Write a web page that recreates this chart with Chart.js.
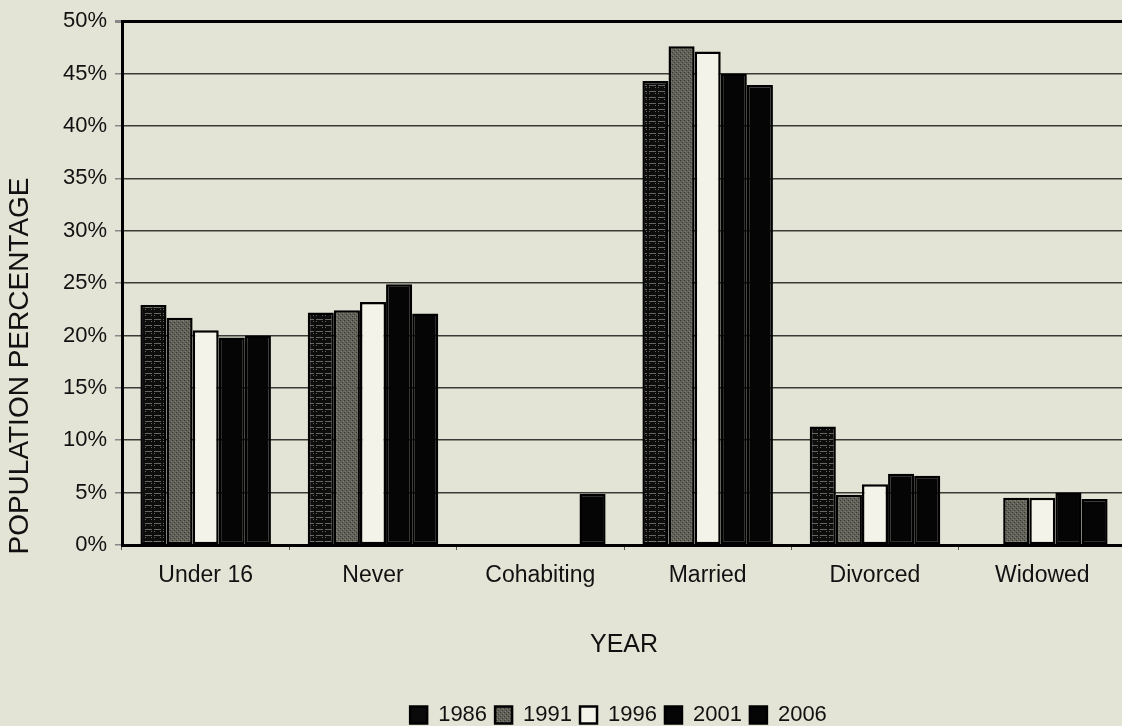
<!DOCTYPE html>
<html>
<head>
<meta charset="utf-8">
<script src="https://cdn.jsdelivr.net/npm/chart.js@4.4.1/dist/chart.umd.min.js"></script>
<style>
  html, body { margin: 0; padding: 0; background: #e4e4d6; overflow: hidden; }
  #chart { display: block; }
</style>
</head>
<body>
<canvas id="chart" width="1130" height="726"></canvas>
<script>
// values (percent of population)
var categories = ['Under 16', 'Never', 'Cohabiting', 'Married', 'Divorced', 'Widowed'];
var years = ['1986', '1991', '1996', '2001', '2006'];
var v1986 = [22.9, 22.2, 0, 44.3, 11.3, 0];
var v1991 = [21.7, 22.4, 0, 47.6, 4.8, 4.5];
var v1996 = [20.5, 23.2, 0, 47.1, 5.8, 4.5];
var v2001 = [19.8, 24.9, 0, 45.0, 6.8, 5.0];
var v2006 = [20.0, 22.1, 4.9, 43.9, 6.6, 4.4];
var yTicks = [0, 5, 10, 15, 20, 25, 30, 35, 40, 45, 50];

var font = 'Liberation Sans, Arial, sans-serif';

function makePattern(w, h, draw) {
    var c = document.createElement('canvas');
    c.width = w; c.height = h;
    var g = c.getContext('2d');
    draw(g);
    return g.createPattern(c, 'repeat');
}

// black with little grey dashes, like the scanned hatch
var brick = makePattern(9, 6, function (g) {
    g.fillStyle = '#0d0d0d';
    g.fillRect(0, 0, 9, 6);
    g.fillStyle = '#66665e';
    g.fillRect(1, 1, 7, 1);
    g.fillRect(1, 3, 1, 1);
    g.fillRect(7, 3, 1, 1);
});
// grey stipple
var stipple = makePattern(4, 4, function (g) {
    g.fillStyle = '#62625a';
    g.fillRect(0, 0, 4, 4);
    g.fillStyle = '#37372f';
    g.fillRect(0, 0, 1, 1);
    g.fillRect(2, 2, 1, 1);
    g.fillStyle = '#7e7e74';
    g.fillRect(1, 3, 1, 1);
    g.fillRect(3, 1, 1, 1);
});

var fills = [brick, stipple, '#f3f3ea', '#050505', '#050505'];
var series = [v1986, v1991, v1996, v2001, v2006];

var datasets = years.map(function (y, i) {
    return {
        label: y,
        data: series[i],
        backgroundColor: fills[i],
        borderColor: '#000',
        borderWidth: 2.5,
        borderSkipped: false
    };
});

// y title sits a bit low in the original, so it is drawn by hand
var yTitle = {
    id: 'yTitle',
    afterLayout: function (chart) {
        // nudge the legend to where the scan has it
        chart.legend.left += 24;
        chart.legend.right += 24;
        chart.legend.top += 10;
        chart.legend.bottom += 10;
    },
    afterDraw: function (chart) {
        var ctx = chart.ctx;
        ctx.save();
        ctx.translate(20, 366);
        ctx.rotate(-Math.PI / 2);
        ctx.font = '28px ' + font;
        ctx.fillStyle = '#111';
        ctx.textAlign = 'center';
        ctx.textBaseline = 'middle';
        ctx.fillText('POPULATION PERCENTAGE', 0, 0);
        ctx.restore();
    }
};

var ctx = document.getElementById('chart').getContext('2d');
var chart = new Chart(ctx, {
    type: 'bar',
    data: { labels: categories, datasets: datasets },
    plugins: [yTitle],
    options: {
        responsive: false,
        animation: false,
        devicePixelRatio: 1,
        layout: { padding: { left: 63, right: 4, top: 19, bottom: 0 } },
        datasets: { bar: { categoryPercentage: 0.78, barPercentage: 1.0 } },
        plugins: {
            tooltip: { enabled: false },
            legend: {
                position: 'bottom',
                labels: {
                    color: '#111',
                    font: { family: font, size: 22 },
                    boxWidth: 17,
                    boxHeight: 17,
                    padding: 8,
                    generateLabels: function (chart) {
                        var items = Chart.defaults.plugins.legend.labels.generateLabels(chart);
                        items[0].fillStyle = '#0a0a0a';
                        return items;
                    }
                }
            }
        },
        scales: {
            x: {
                afterFit: function (scale) { scale.height = 141; },
                grid: {
                    drawOnChartArea: false,
                    drawTicks: true,
                    tickLength: 5,
                    tickColor: '#555',
                    offset: true
                },
                border: { color: '#000', width: 3 },
                ticks: {
                    color: '#111',
                    font: { family: font, size: 23 },
                    padding: 12
                },
                title: {
                    display: true,
                    text: 'YEAR',
                    color: '#111',
                    font: { family: font, size: 25 },
                    padding: { top: 10, bottom: 26 }
                }
            },
            y: {
                min: 0,
                max: 50,
                afterFit: function (scale) { scale.width = 59; },
                afterBuildTicks: function (scale) {
                    scale.ticks = yTicks.map(function (v) { return { value: v }; });
                },
                grid: {
                    color: function (c) { return c.tick && c.tick.value === 50 ? '#000' : '#3a3a36'; },
                    lineWidth: function (c) { return c.tick && c.tick.value === 50 ? 3 : 1.5; },
                    drawTicks: true,
                    tickLength: 7,
                    tickColor: '#888'
                },
                border: { color: '#000', width: 3 },
                ticks: {
                    color: '#111',
                    font: { family: font, size: 22 },
                    padding: 8,
                    callback: function (v) { return v + '%'; }
                }
            }
        }
    }
});
</script>
</body>
</html>
